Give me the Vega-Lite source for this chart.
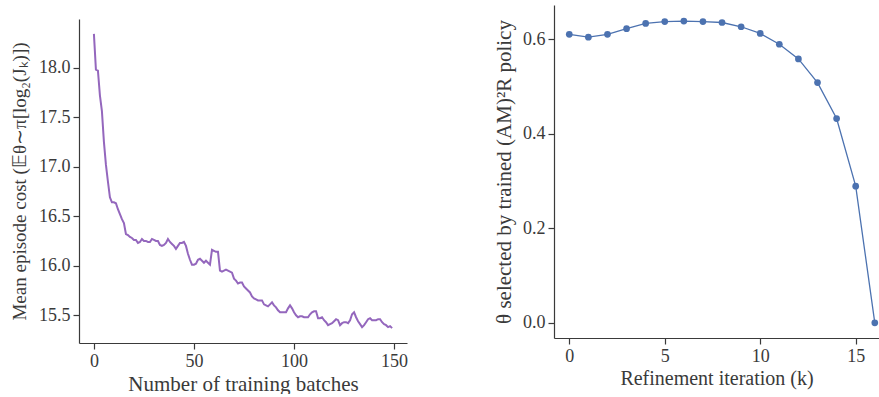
{
  "$schema": "https://vega.github.io/schema/vega-lite/v6.json",
  "padding": {"left": 10, "top": 5, "right": 0, "bottom": 0},
  "spacing": 85,
  "config": {
    "view": {"stroke": null},
    "font": "Liberation Serif",
    "axis": {
      "grid": false,
      "domainColor": "#3a3a3a",
      "domainWidth": 1.2,
      "tickColor": "#3a3a3a",
      "tickWidth": 1.2,
      "tickSize": 6,
      "labelFont": "Liberation Serif",
      "labelFontSize": 18,
      "labelColor": "#3a3a3a",
      "titleFont": "Liberation Serif",
      "titleFontSize": 21,
      "titleFontWeight": "normal",
      "titleColor": "#3a3a3a",
      "labelPadding": 3
    }
  },
  "datasets": {
    "train": [
      {"batch": 0, "cost": 18.34}, {"batch": 1, "cost": 17.98}, {"batch": 2, "cost": 17.97}, {"batch": 3, "cost": 17.72}, {"batch": 4, "cost": 17.56},
      {"batch": 5, "cost": 17.25}, {"batch": 6, "cost": 17.02}, {"batch": 7, "cost": 16.85}, {"batch": 8, "cost": 16.69}, {"batch": 9, "cost": 16.64},
      {"batch": 10, "cost": 16.64}, {"batch": 11, "cost": 16.63}, {"batch": 12, "cost": 16.57}, {"batch": 13, "cost": 16.52}, {"batch": 14, "cost": 16.47},
      {"batch": 15, "cost": 16.43}, {"batch": 16, "cost": 16.32}, {"batch": 17, "cost": 16.31}, {"batch": 18, "cost": 16.29}, {"batch": 19, "cost": 16.28},
      {"batch": 20, "cost": 16.26}, {"batch": 21, "cost": 16.26}, {"batch": 22, "cost": 16.23}, {"batch": 23, "cost": 16.24}, {"batch": 24, "cost": 16.27},
      {"batch": 25, "cost": 16.25}, {"batch": 26, "cost": 16.25}, {"batch": 27, "cost": 16.24}, {"batch": 28, "cost": 16.24}, {"batch": 29, "cost": 16.27},
      {"batch": 30, "cost": 16.26}, {"batch": 31, "cost": 16.25}, {"batch": 32, "cost": 16.25}, {"batch": 33, "cost": 16.21}, {"batch": 34, "cost": 16.20},
      {"batch": 35, "cost": 16.21}, {"batch": 36, "cost": 16.23}, {"batch": 37, "cost": 16.27}, {"batch": 38, "cost": 16.24}, {"batch": 39, "cost": 16.22},
      {"batch": 40, "cost": 16.20}, {"batch": 41, "cost": 16.17}, {"batch": 42, "cost": 16.20}, {"batch": 43, "cost": 16.23}, {"batch": 44, "cost": 16.23},
      {"batch": 45, "cost": 16.24}, {"batch": 46, "cost": 16.20}, {"batch": 47, "cost": 16.12}, {"batch": 48, "cost": 16.06}, {"batch": 49, "cost": 16.01},
      {"batch": 50, "cost": 16.01}, {"batch": 51, "cost": 16.02}, {"batch": 52, "cost": 16.06}, {"batch": 53, "cost": 16.07}, {"batch": 54, "cost": 16.05},
      {"batch": 55, "cost": 16.03}, {"batch": 56, "cost": 16.05}, {"batch": 57, "cost": 16.03}, {"batch": 58, "cost": 16.01}, {"batch": 59, "cost": 16.16},
      {"batch": 60, "cost": 16.15}, {"batch": 61, "cost": 16.14}, {"batch": 62, "cost": 16.14}, {"batch": 63, "cost": 15.95}, {"batch": 64, "cost": 15.94},
      {"batch": 65, "cost": 15.95}, {"batch": 66, "cost": 15.96}, {"batch": 67, "cost": 15.95}, {"batch": 68, "cost": 15.94}, {"batch": 69, "cost": 15.93},
      {"batch": 70, "cost": 15.87}, {"batch": 71, "cost": 15.85}, {"batch": 72, "cost": 15.82}, {"batch": 73, "cost": 15.83}, {"batch": 74, "cost": 15.83},
      {"batch": 75, "cost": 15.79}, {"batch": 76, "cost": 15.77}, {"batch": 77, "cost": 15.75}, {"batch": 78, "cost": 15.73}, {"batch": 79, "cost": 15.69},
      {"batch": 80, "cost": 15.67}, {"batch": 81, "cost": 15.66}, {"batch": 82, "cost": 15.65}, {"batch": 83, "cost": 15.65}, {"batch": 84, "cost": 15.65},
      {"batch": 85, "cost": 15.61}, {"batch": 86, "cost": 15.60}, {"batch": 87, "cost": 15.59}, {"batch": 88, "cost": 15.61}, {"batch": 89, "cost": 15.63},
      {"batch": 90, "cost": 15.60}, {"batch": 91, "cost": 15.58}, {"batch": 92, "cost": 15.55}, {"batch": 93, "cost": 15.53}, {"batch": 94, "cost": 15.53},
      {"batch": 95, "cost": 15.53}, {"batch": 96, "cost": 15.53}, {"batch": 97, "cost": 15.57}, {"batch": 98, "cost": 15.60}, {"batch": 99, "cost": 15.57},
      {"batch": 100, "cost": 15.53}, {"batch": 101, "cost": 15.50}, {"batch": 102, "cost": 15.48}, {"batch": 103, "cost": 15.49}, {"batch": 104, "cost": 15.49},
      {"batch": 105, "cost": 15.48}, {"batch": 106, "cost": 15.48}, {"batch": 107, "cost": 15.48}, {"batch": 108, "cost": 15.51}, {"batch": 109, "cost": 15.53},
      {"batch": 110, "cost": 15.54}, {"batch": 111, "cost": 15.54}, {"batch": 112, "cost": 15.47}, {"batch": 113, "cost": 15.47}, {"batch": 114, "cost": 15.48},
      {"batch": 115, "cost": 15.45}, {"batch": 116, "cost": 15.43}, {"batch": 117, "cost": 15.40}, {"batch": 118, "cost": 15.41}, {"batch": 119, "cost": 15.42},
      {"batch": 120, "cost": 15.44}, {"batch": 121, "cost": 15.46}, {"batch": 122, "cost": 15.45}, {"batch": 123, "cost": 15.40}, {"batch": 124, "cost": 15.42},
      {"batch": 125, "cost": 15.43}, {"batch": 126, "cost": 15.43}, {"batch": 127, "cost": 15.42}, {"batch": 128, "cost": 15.45}, {"batch": 129, "cost": 15.51},
      {"batch": 130, "cost": 15.53}, {"batch": 131, "cost": 15.48}, {"batch": 132, "cost": 15.44}, {"batch": 133, "cost": 15.41}, {"batch": 134, "cost": 15.38},
      {"batch": 135, "cost": 15.40}, {"batch": 136, "cost": 15.43}, {"batch": 137, "cost": 15.46}, {"batch": 138, "cost": 15.47}, {"batch": 139, "cost": 15.45},
      {"batch": 140, "cost": 15.45}, {"batch": 141, "cost": 15.45}, {"batch": 142, "cost": 15.46}, {"batch": 143, "cost": 15.46}, {"batch": 144, "cost": 15.43},
      {"batch": 145, "cost": 15.41}, {"batch": 146, "cost": 15.40}, {"batch": 147, "cost": 15.38}, {"batch": 148, "cost": 15.39}, {"batch": 149, "cost": 15.37}
    ],
    "refine": [
      {"k": 0, "theta": 0.610}, {"k": 1, "theta": 0.604}, {"k": 2, "theta": 0.610}, {"k": 3, "theta": 0.622},
      {"k": 4, "theta": 0.633}, {"k": 5, "theta": 0.637}, {"k": 6, "theta": 0.638}, {"k": 7, "theta": 0.637},
      {"k": 8, "theta": 0.635}, {"k": 9, "theta": 0.626}, {"k": 10, "theta": 0.612}, {"k": 11, "theta": 0.589},
      {"k": 12, "theta": 0.558}, {"k": 13, "theta": 0.508}, {"k": 14, "theta": 0.432}, {"k": 15, "theta": 0.289},
      {"k": 16, "theta": 0.0}
    ]
  },
  "hconcat": [
    {
      "spacing": 0,
      "vconcat": [
        {
          "width": 328,
          "height": 14,
          "data": {"values": []},
          "mark": {"type": "rule", "opacity": 0},
          "encoding": {}
        },
        {
          "width": 328,
          "height": 324,
          "data": {"name": "train"},
          "mark": {"type": "line", "color": "#9467bd", "strokeWidth": 2, "clip": true},
          "encoding": {
            "x": {
              "field": "batch", "type": "quantitative",
              "scale": {"domain": [-7.45, 156.45], "nice": false, "zero": false},
              "axis": {"values": [0, 50, 100, 150], "title": "Number of training batches", "titlePadding": 3}
            },
            "y": {
              "field": "cost", "type": "quantitative",
              "scale": {"domain": [15.22, 18.49], "nice": false, "zero": false},
              "axis": {"values": [15.5, 16.0, 16.5, 17.0, 17.5, 18.0], "format": ".1f", "title": "Mean episode cost (𝔼θ∼π[log₂(Jₖ)])", "titleFontSize": 19, "titlePadding": 9}
            }
          }
        }
      ]
    },
    {
      "width": 325,
      "height": 333,
      "data": {"name": "refine"},
      "encoding": {
        "x": {
          "field": "k", "type": "quantitative",
          "scale": {"domain": [-0.8, 16.22], "nice": false, "zero": false},
          "axis": {"values": [0, 5, 10, 15], "title": "Refinement iteration (k)", "titleFontSize": 20, "titlePadding": 3}
        },
        "y": {
          "field": "theta", "type": "quantitative",
          "scale": {"domain": [-0.032, 0.672], "nice": false, "zero": false},
          "axis": {"values": [0.0, 0.2, 0.4, 0.6], "format": ".1f", "title": "θ selected by trained (AM)²R policy", "titlePadding": 8}
        }
      },
      "layer": [
        {"mark": {"type": "line", "color": "#4c72b0", "strokeWidth": 1.3}},
        {"mark": {"type": "point", "filled": true, "color": "#4c72b0", "opacity": 1, "size": 45}}
      ]
    }
  ]
}
